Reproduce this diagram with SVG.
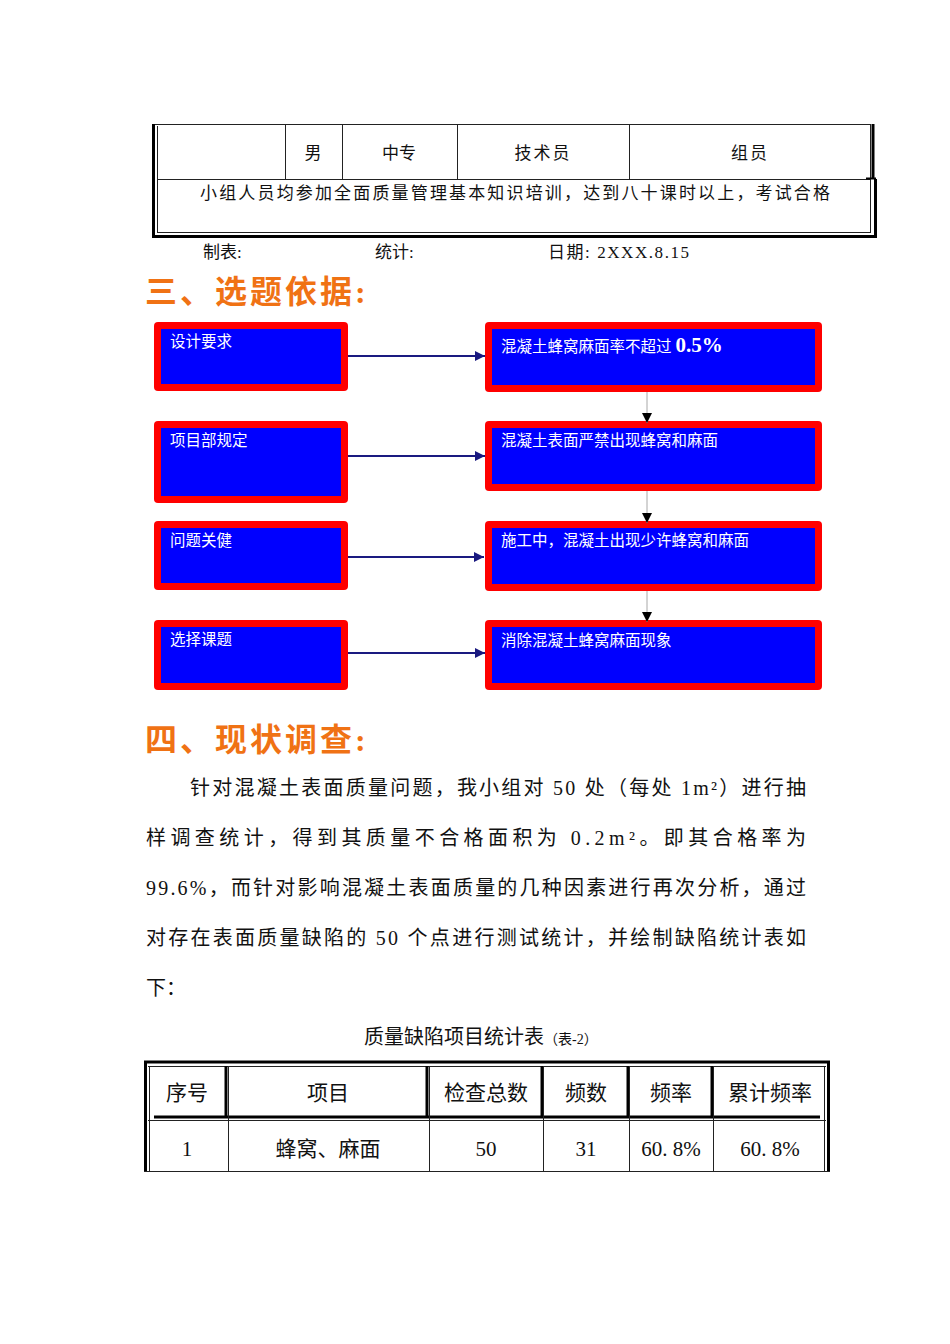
<svg xmlns="http://www.w3.org/2000/svg" width="950" height="1344" viewBox="0 0 950 1344">
<style>
.t{font-family:"Liberation Serif","Noto Sans CJK SC",serif;fill:#111}
.w{font-family:"Liberation Serif","Noto Sans CJK SC",serif;fill:#fff;font-size:15.5px}
.h{font-family:"Liberation Serif","Noto Sans CJK SC",serif;fill:#F07214;font-size:32px;font-weight:bold;letter-spacing:3px}
.red{fill:#FF0000}
.blue{fill:#0000FF}
.nav{stroke:#1A1A80;stroke-width:2;fill:none}
.gry{stroke:#A8A8A8;stroke-width:1;fill:none}
.ln{stroke:#222;stroke-width:1;fill:none}
.tk{stroke:#000;stroke-width:3;fill:none}
</style>
<defs>
<marker id="an" viewBox="0 0 10 10" refX="10" refY="5" markerWidth="5" markerHeight="5" orient="auto" markerUnits="strokeWidth"><path d="M0,0L10,5L0,10z" fill="#1A1A80"/></marker>
<marker id="ab" viewBox="0 0 10 10" refX="10" refY="5" markerWidth="10" markerHeight="10" orient="auto" markerUnits="strokeWidth"><path d="M0,0L10,5L0,10z" fill="#000"/></marker>
</defs>
<rect width="950" height="1344" fill="#fff"/>

<g id="table1">
<line class="ln" x1="154" y1="124.5" x2="870" y2="124.5"/>
<line class="tk" x1="153.5" y1="124" x2="153.5" y2="238"/>
<line class="ln" x1="157.5" y1="126" x2="157.5" y2="233"/>
<line class="ln" x1="158" y1="179.5" x2="870" y2="179.5"/>
<line class="ln" x1="158" y1="232.5" x2="870" y2="232.5"/>
<line class="tk" x1="152" y1="236.5" x2="877" y2="236.5"/>
<line class="ln" x1="870.5" y1="124" x2="870.5" y2="233"/>
<line class="tk" x1="873" y1="124" x2="873" y2="179"/>
<line class="tk" x1="875.5" y1="179" x2="875.5" y2="238"/>
<line x1="866" y1="178.5" x2="876" y2="178.5" stroke="#000" stroke-width="2"/>
<line class="ln" x1="285.5" y1="124" x2="285.5" y2="179"/>
<line class="ln" x1="342.5" y1="124" x2="342.5" y2="179"/>
<line class="ln" x1="457.5" y1="124" x2="457.5" y2="179"/>
<line class="ln" x1="629.5" y1="124" x2="629.5" y2="179"/>
<g class="t" font-size="17" text-anchor="middle">
<text x="313" y="159">男</text>
<text x="399" y="159">中专</text>
<text x="543" y="159" letter-spacing="2">技术员</text>
<text x="750" y="159" letter-spacing="2">组员</text>
</g>
<text class="t" x="200" y="199" font-size="17" textLength="630" lengthAdjust="spacing">小组人员均参加全面质量管理基本知识培训，达到八十课时以上，考试合格</text>
<g class="t" font-size="17">
<text x="203" y="258">制表:</text>
<text x="375" y="258">统计:</text>
<text x="548" y="258" textLength="141" lengthAdjust="spacing">日期: 2XXX.8.15</text>
</g>
</g>

<text id="heading3" class="h" x="145" y="303">三、选题依据:</text>

<g id="n1">
<rect class="red" x="154" y="322" width="194" height="69" rx="4"/>
<rect class="blue" x="161" y="329" width="180" height="55"/>
<text class="w" x="170" y="347">设计要求</text>
</g>
<g id="n2">
<rect class="red" x="154" y="421" width="194" height="82" rx="4"/>
<rect class="blue" x="161" y="428" width="180" height="68"/>
<text class="w" x="170" y="446">项目部规定</text>
</g>
<g id="n3">
<rect class="red" x="154" y="521" width="194" height="69" rx="4"/>
<rect class="blue" x="161" y="528" width="180" height="55"/>
<text class="w" x="170" y="546">问题关健</text>
</g>
<g id="n4">
<rect class="red" x="154" y="620" width="194" height="70" rx="4"/>
<rect class="blue" x="161" y="627" width="180" height="56"/>
<text class="w" x="170" y="645">选择课题</text>
</g>
<g id="r1">
<rect class="red" x="485" y="322" width="337" height="70" rx="4"/>
<rect class="blue" x="492" y="329" width="323" height="56"/>
<text class="w" x="501" y="352">混凝土蜂窝麻面率不超过 <tspan font-size="21" font-weight="bold">0.5%</tspan></text>
</g>
<g id="r2">
<rect class="red" x="485" y="421" width="337" height="70" rx="4"/>
<rect class="blue" x="492" y="428" width="323" height="56"/>
<text class="w" x="501" y="446">混凝土表面严禁出现蜂窝和麻面</text>
</g>
<g id="r3">
<rect class="red" x="485" y="521" width="337" height="70" rx="4"/>
<rect class="blue" x="492" y="528" width="323" height="56"/>
<text class="w" x="501" y="546">施工中，混凝土出现少许蜂窝和麻面</text>
</g>
<g id="r4">
<rect class="red" x="485" y="620" width="337" height="70" rx="4"/>
<rect class="blue" x="492" y="627" width="323" height="56"/>
<text class="w" x="501" y="646">消除混凝土蜂窝麻面现象</text>
</g>

<g id="connectors">
<line class="nav" x1="348" y1="356" x2="485" y2="356" marker-end="url(#an)"/>
<line class="nav" x1="348" y1="456" x2="485" y2="456" marker-end="url(#an)"/>
<line class="nav" x1="348" y1="557" x2="484" y2="557" marker-end="url(#an)"/>
<line class="nav" x1="348" y1="653" x2="485" y2="653" marker-end="url(#an)"/>
<line class="gry" x1="647" y1="392" x2="647" y2="423" marker-end="url(#ab)"/>
<line class="gry" x1="647" y1="491" x2="647" y2="523" marker-end="url(#ab)"/>
<line class="gry" x1="647" y1="591" x2="647" y2="622" marker-end="url(#ab)"/>
</g>

<text id="heading4" class="h" x="145" y="751">四、现状调查:</text>

<g id="paragraph" class="t" font-size="20">
<text x="190" y="795" textLength="616" lengthAdjust="spacing">针对混凝土表面质量问题，我小组对 50 处（每处 1m²）进行抽</text>
<text x="146" y="845" textLength="660" lengthAdjust="spacing">样调查统计，得到其质量不合格面积为 0.2m²。即其合格率为</text>
<text x="146" y="895" textLength="660" lengthAdjust="spacing">99.6%，而针对影响混凝土表面质量的几种因素进行再次分析，通过</text>
<text x="146" y="945" textLength="660" lengthAdjust="spacing">对存在表面质量缺陷的 50 个点进行测试统计，并绘制缺陷统计表如</text>
<text x="146" y="995">下：</text>
</g>

<text id="caption" class="t" x="364" y="1044" font-size="20">质量缺陷项目统计表<tspan font-size="14">（表-2）</tspan></text>

<g id="table2">
<line class="tk" x1="144" y1="1062" x2="830" y2="1062"/>
<line class="ln" x1="148" y1="1066.5" x2="826" y2="1066.5"/>
<line class="tk" x1="145.5" y1="1061" x2="145.5" y2="1172"/>
<line class="ln" x1="149.5" y1="1066" x2="149.5" y2="1171"/>
<line class="tk" x1="828.5" y1="1061" x2="828.5" y2="1172"/>
<line class="ln" x1="824.5" y1="1066" x2="824.5" y2="1171"/>
<line class="tk" x1="154" y1="1117" x2="820" y2="1117"/>
<line class="ln" x1="148" y1="1120.5" x2="826" y2="1120.5"/>
<line class="ln" x1="144" y1="1171.5" x2="830" y2="1171.5"/>
<g class="tk">
<line x1="226" y1="1066" x2="226" y2="1118"/>
<line x1="427" y1="1066" x2="427" y2="1118"/>
<line x1="542" y1="1066" x2="542" y2="1118"/>
<line x1="628" y1="1066" x2="628" y2="1118"/>
<line x1="712" y1="1066" x2="712" y2="1118"/>
</g>
<g class="ln">
<line x1="228.5" y1="1066" x2="228.5" y2="1171"/>
<line x1="429.5" y1="1066" x2="429.5" y2="1171"/>
<line x1="543.5" y1="1066" x2="543.5" y2="1171"/>
<line x1="629.5" y1="1066" x2="629.5" y2="1171"/>
<line x1="713.5" y1="1066" x2="713.5" y2="1171"/>
</g>
<g class="t" font-size="21" text-anchor="middle">
<text x="187" y="1100">序号</text>
<text x="328" y="1100">项目</text>
<text x="486" y="1100">检查总数</text>
<text x="586" y="1100">频数</text>
<text x="671" y="1100">频率</text>
<text x="770" y="1100">累计频率</text>
<text x="187" y="1156">1</text>
<text x="328" y="1156">蜂窝、麻面</text>
<text x="486" y="1156">50</text>
<text x="586" y="1156">31</text>
<text x="671" y="1156">60. 8%</text>
<text x="770" y="1156">60. 8%</text>
</g>
</g>
</svg>
